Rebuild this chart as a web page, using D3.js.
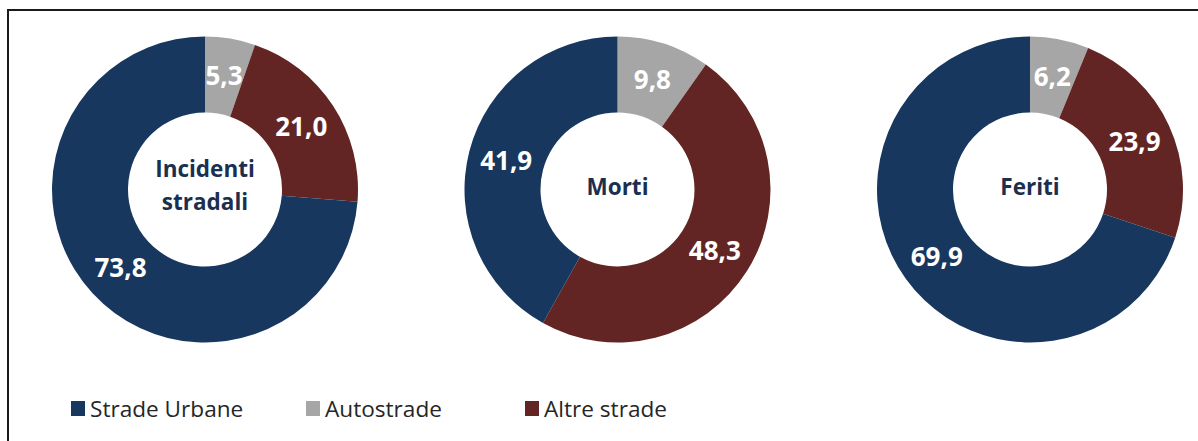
<!DOCTYPE html>
<html>
<head>
<meta charset="utf-8">
<script src="https://cdn.jsdelivr.net/npm/d3@7"></script>
<style>
  html, body { margin: 0; padding: 0; background: #fff; }
  svg { display: block; }
</style>
</head>
<body>
<svg id="chart" width="1198" height="441"></svg>
<script>
// Road categories, drawn clockwise from 12 o'clock
const categories = ["Autostrade", "Altre strade", "Strade Urbane"];
const legendOrder = ["Strade Urbane", "Autostrade", "Altre strade"];
const panels = [["Incidenti", "stradali"], ["Morti"], ["Feriti"]];

// Percentage shares per panel, in category order
const incidentiValues = [5.3, 21.0, 73.8];
const mortiValues = [9.8, 48.3, 41.9];
const feritiValues = [6.2, 23.9, 69.9];
const seriesValues = [incidentiValues, mortiValues, feritiValues];

const colors = d3.scaleOrdinal()
  .domain(categories)
  .range(["#a6a6a6", "#632523", "#17375e"]);

const svg = d3.select("#chart");
const fmt = v => d3.format(".1f")(v).replace(".", ",");

// outer frame (continues past right and bottom edges)
svg.append("rect")
  .attr("x", 8).attr("y", 10)
  .attr("width", 1300).attr("height", 500)
  .attr("fill", "none")
  .attr("stroke", "#1a1a1a")
  .attr("stroke-width", 2);

const cx = d3.scalePoint().domain(d3.range(panels.length)).range([205, 1030]);
const cy = 189.5;
const outerR = 153, innerR = 77;

const pie = d3.pie().sort(null).value(d => d.value);
const arc = d3.arc().innerRadius(innerR).outerRadius(outerR);

panels.forEach((title, i) => {
  const data = categories.map((c, k) => ({ cat: c, value: seriesValues[i][k] }));
  const g = svg.append("g").attr("transform", `translate(${cx(i)},${cy})`);
  const arcs = pie(data);

  g.selectAll("path")
    .data(arcs)
    .join("path")
    .attr("d", arc)
    .attr("fill", d => colors(d.data.cat));

  g.selectAll("text.val")
    .data(arcs)
    .join("text")
    .attr("class", "val")
    .attr("transform", d => `translate(${arc.centroid(d)})`)
    .attr("text-anchor", "middle")
    .attr("dy", "0.36em")
    .attr("fill", "#fff")
    .style("font-family", "'Open Sans', sans-serif")
    .style("font-weight", 700)
    .style("font-size", "26px")
    .text(d => fmt(d.data.value));

  const t = g.append("text")
    .attr("text-anchor", "middle")
    .attr("fill", "#1b2f4f")
    .style("font-family", "'Open Sans', sans-serif")
    .style("font-weight", 700)
    .style("font-size", "22.5px");
  const lh = 33;
  const y0 = title.length === 1 ? 5.5 : -12.5;
  title.forEach((line, j) => {
    t.append("tspan").attr("x", 0).attr("y", y0 + j * lh).text(line);
  });
});

// legend
const legendX = d3.scaleOrdinal().domain(legendOrder).range([71, 306, 525]);
const lg = svg.append("g").selectAll("g")
  .data(legendOrder)
  .join("g")
  .attr("transform", d => `translate(${legendX(d)},401)`);
lg.append("rect")
  .attr("width", 14).attr("height", 15)
  .attr("fill", d => colors(d));
lg.append("text")
  .attr("x", 19).attr("y", 15.5)
  .attr("fill", "#262626")
  .style("font-family", "'Open Sans', sans-serif")
  .style("font-size", "22.6px")
  .text(d => d);
</script>
</body>
</html>
